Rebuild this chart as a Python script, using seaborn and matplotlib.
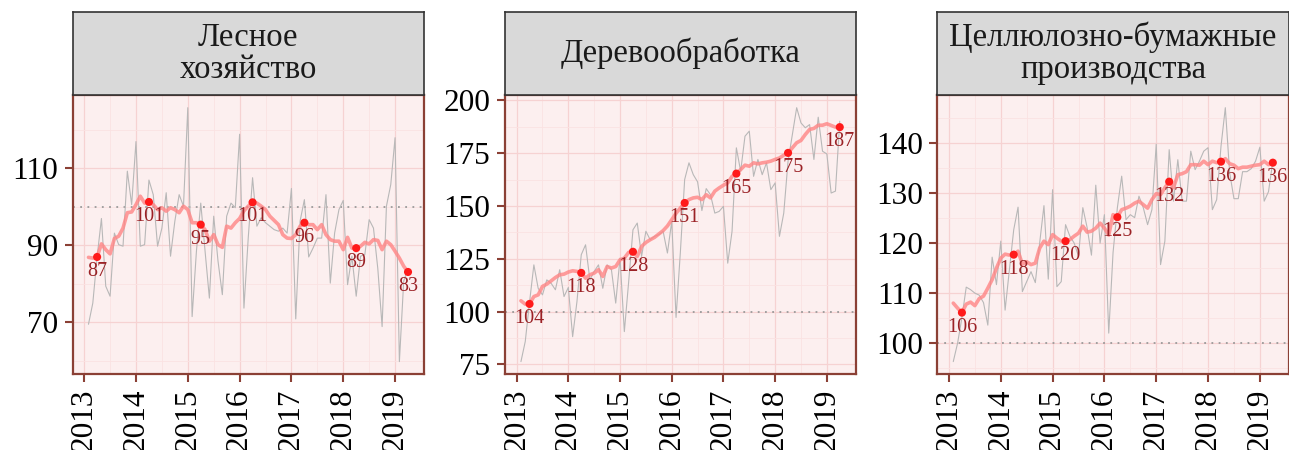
import numpy as np
import pandas as pd
import matplotlib
matplotlib.use("Agg")
import matplotlib.pyplot as plt
import seaborn as sns
from matplotlib.ticker import FixedLocator

# ---------------- data ----------------
titles = ["Лесное\nхозяйство", "Деревообработка", "Целлюлозно-бумажные\nпроизводства"]
years = [2013, 2014, 2015, 2016, 2017, 2018, 2019]

raw_forest = [69.5, 75, 87, 97, 79.4, 76.8, 93.2, 90.2, 89.8, 109.3, 100.6, 117,
              89.8, 90.2, 107, 103.2, 89.8, 94.5, 103.7, 87.2, 96.3, 103.2, 100.2, 125.8,
              71.5, 88.5, 101, 88.5, 76.3, 97.6, 85.9, 77.2, 97.6, 101, 99.8, 118.9,
              73.7, 92, 107.6, 95, 97.2, 95.9, 95, 94.1, 93.7, 94.5, 93.2, 104.8,
              70.9, 96.3, 101.9, 87, 89.3, 91.9, 91.9, 103.2, 80.2, 93.2, 99.3, 101.7,
              79.8, 87.2, 76.8, 87.2, 87.6, 96.7, 94.5, 84, 68.9, 100.2, 105.8, 118,
              59.8, 80.7, 84]
smooth_forest = [86.9, 86.7, 87, 90.4, 88.9, 87.8, 91.8, 92.4, 94.5, 98.5, 98.7, 100.6,
                 102.8, 101, 101.3, 100.6, 99.3, 99.8, 98.9, 99.8, 99.3, 98.5, 100.2, 99.3,
                 95.9, 95.9, 95.4, 94.1, 91.1, 92.8, 90.2, 89.5, 95, 94.5, 95.9, 97,
                 99, 100.2, 101.2, 101, 100.2, 99.3, 97.6, 96.5, 95.4, 92.8, 91.9, 91.8,
                 92.8, 95, 95.9, 95.4, 95.4, 94.1, 95.4, 92.8, 91.5, 91.1, 91.1, 88.9,
                 92.1, 89.3, 89.3, 89.8, 90.8, 90.4, 91.5, 91.3, 88.9, 91.1, 90.2, 88.5,
                 86.7, 84.6, 83.1]

raw_wood = [76.3, 85.8, 104.5, 122.1, 111, 107.9, 115, 113.4, 110.3, 119.8, 107.1, 111.4,
            88.1, 104.7, 126.9, 131.6, 115, 119, 122.1, 111, 122.1, 119.8, 104, 125.3,
            90.5, 114, 138.7, 141.9, 126.1, 138, 134, 135.6, 136.4, 138, 127.7, 142.7,
            97.2, 128, 162.5, 170.4, 164.8, 161.4, 147.8, 158.2, 155.3, 146.6, 147.4, 149.8,
            122.9, 138, 177.5, 166.4, 183, 185.4, 164, 172, 164.8, 170.4, 157.7, 160.9,
            135.6, 146.6, 171.2, 183.8, 196.5, 189.3, 187, 188.5, 172, 192, 175.9, 174.6,
            156.1, 157, 190.1]
smooth_wood = [105.1, 103.5, 103.6, 107.1, 107.9, 111.9, 113, 114.5, 116.1, 117.4, 117.7, 118.7,
               119.3, 119, 118.3, 115.8, 117.4, 118.2, 119.8, 116.6, 121.3, 120.6, 121.3, 124.5,
               125.3, 128, 128.3, 126.1, 130.8, 132.7, 134, 135.1, 136.7, 138.3, 140.5, 143.5,
               146.5, 149, 151.4, 153, 153.8, 154.1, 153, 155.3, 153.8, 157, 158.5, 159.8,
               160.9, 164, 165.3, 167.2, 169.3, 168.8, 170.4, 169.9, 170.4, 170.7, 171.2, 172,
               172.7, 174, 175.1, 177.5, 179.9, 181, 183.8, 186.2, 186.7, 188.2, 188.2, 188.9,
               188.1, 187.3, 187.3]

raw_pulp = [96.2, 99.9, 105, 111.1, 110.6, 109.9, 109.5, 108, 103.5, 117.1, 111.6, 120.3,
            106.5, 114.6, 122.6, 127.1, 110.2, 112.2, 114.2, 112, 119.9, 127.4, 112.7, 130.6,
            111.2, 112.2, 123.6, 121.3, 119.9, 117.3, 127, 123, 117.5, 131.5, 119.9, 125.6,
            101.9, 118, 127, 133.3, 124.6, 125.6, 125, 129.3, 127, 123.6, 126.6, 139.7,
            115.6, 120.3, 138.6, 128.3, 136.6, 128.3, 128.3, 138.3, 134.6, 136.3, 138.3, 139,
            126.6, 128.6, 139.3, 147, 134, 128.8, 128.8, 134.2, 134.2, 134.8, 136.3, 139.1,
            128.3, 130.2, 136.3]
smooth_pulp = [107.9, 106.9, 106, 107.7, 108.1, 107.4, 108.8, 109.3, 110.9, 112.6, 114.9, 116.9,
               117.7, 117.5, 117.6, 118.3, 115.7, 116.2, 115.6, 115.9, 118.9, 120.3, 119.6, 121.6,
               120.9, 120.3, 120.3, 120.6, 121.3, 121.9, 123.3, 122.1, 122.3, 122.9, 123.9, 122.9,
               121.5, 125.6, 125.1, 126.6, 126.9, 127.3, 127.9, 128.3, 127.6, 126.9, 128.6, 129.8,
               129.6, 131, 132.2, 131, 133.6, 133.8, 134.2, 135.6, 135.6, 135.5, 136.3, 135.6,
               136.3, 136, 136.2, 136.8, 135.8, 135.5, 134.8, 135.1, 135.1, 135.3, 135.5, 135.6,
               136.3, 135.6, 136]

yticks_forest = [70, 90, 110]
yticks_wood = [75, 100, 125, 150, 175, 200]
yticks_pulp = [100, 110, 120, 130, 140]

raws = [raw_forest, raw_wood, raw_pulp]
smooths = [smooth_forest, smooth_wood, smooth_pulp]
yticks_all = [yticks_forest, yticks_wood, yticks_pulp]

months = pd.date_range("2013-01-01", periods=75, freq="MS")
xdec = np.asarray(months.year + months.month / 12.0, dtype=float)
is_march = np.asarray(months.month == 3)

# ---------------- style ----------------
sns.set_theme(style="white")
plt.rcParams["font.family"] = ["Liberation Serif", "DejaVu Serif"]

W, H = 1289, 450
fig = plt.figure(figsize=(W / 100, H / 100), dpi=100)

spine_col = "#8B4035"
bg_col = "#FCEFEF"
grid_major = "#F6D2D2"
grid_minor = "#FAE2E2"
label_col = "#9B2226"

panels = [(72.5, 351.5), (505.0, 350.7), (937.3, 351.5)]
top_px, bot_px, strip_top = 95.0, 374.3, 12.0

for k in range(3):
    l, w = panels[k]
    ax = fig.add_axes([l / W, (H - bot_px) / H, w / W, (bot_px - top_px) / H])
    ax.set_facecolor(bg_col)
    df = pd.DataFrame({"x": xdec, "raw": raws[k], "smooth": smooths[k]})

    ax.axhline(100, color="#9A9A9A", ls=(0, (1, 3)), lw=1.3, zorder=1)
    sns.lineplot(data=df, x="x", y="raw", ax=ax, color="#B8B8B8", lw=0.8, zorder=2)
    sns.lineplot(data=df, x="x", y="smooth", ax=ax, color="#FF8585", lw=2.6, alpha=0.8, zorder=3)
    dm = df[is_march]
    sns.scatterplot(data=dm, x="x", y="smooth", ax=ax, color="#FF1A1A", s=34,
                    edgecolor="none", zorder=5)
    for xv, yv in zip(dm["x"], dm["smooth"]):
        ax.annotate(f"{round(yv):d}", (xv, yv), xytext=(0, -10.5), textcoords="offset points",
                    ha="center", va="center", fontsize=14.5, color=label_col, zorder=6)

    # limits (5% expansion like ggplot)
    ymin, ymax = min(raws[k]), max(raws[k])
    pad = (ymax - ymin) * 0.05
    ax.set_ylim(ymin - pad, ymax + pad)
    xpad = (xdec[-1] - xdec[0]) * 0.05
    ax.set_xlim(xdec[0] - xpad, xdec[-1] + xpad)

    yt = yticks_all[k]
    step = yt[1] - yt[0]
    ax.yaxis.set_major_locator(FixedLocator(yt))
    ax.yaxis.set_minor_locator(FixedLocator([yt[0] - step / 2] + [v + step / 2 for v in yt]))
    ax.xaxis.set_major_locator(FixedLocator(years))
    ax.xaxis.set_minor_locator(FixedLocator([y + 0.5 for y in years[:-1]] + [2012.5]))
    ax.set_xticklabels([str(y) for y in years], rotation=90)
    ax.set_yticklabels([str(v) for v in yt])

    ax.grid(True, which="major", color=grid_major, lw=0.9, zorder=0)
    ax.grid(True, which="minor", color=grid_minor, lw=0.6, zorder=0)
    ax.set_axisbelow(True)

    ax.tick_params(axis="both", which="major", length=5.5, width=1.5, color=spine_col,
                   labelsize=22.5, labelcolor="black", bottom=True, left=True)
    ax.tick_params(axis="y", which="major", pad=5)
    ax.tick_params(axis="x", which="major", pad=5)
    ax.tick_params(axis="both", which="minor", length=0)
    for s in ax.spines.values():
        s.set_color(spine_col)
        s.set_linewidth(1.6)
    ax.set_xlabel("")
    ax.set_ylabel("")

    # facet strip
    st = fig.add_axes([l / W, (H - top_px) / H, w / W, (top_px - strip_top) / H])
    st.set_facecolor("#D9D9D9")
    st.set_xticks([])
    st.set_yticks([])
    for s in st.spines.values():
        s.set_color("#333333")
        s.set_linewidth(1.2)
    st.text(0.5, 0.5, titles[k], ha="center", va="center", fontsize=23.5,
            color="#1A1A1A", transform=st.transAxes, linespacing=1.05)

fig.savefig("out.png", dpi=100, facecolor="white")
